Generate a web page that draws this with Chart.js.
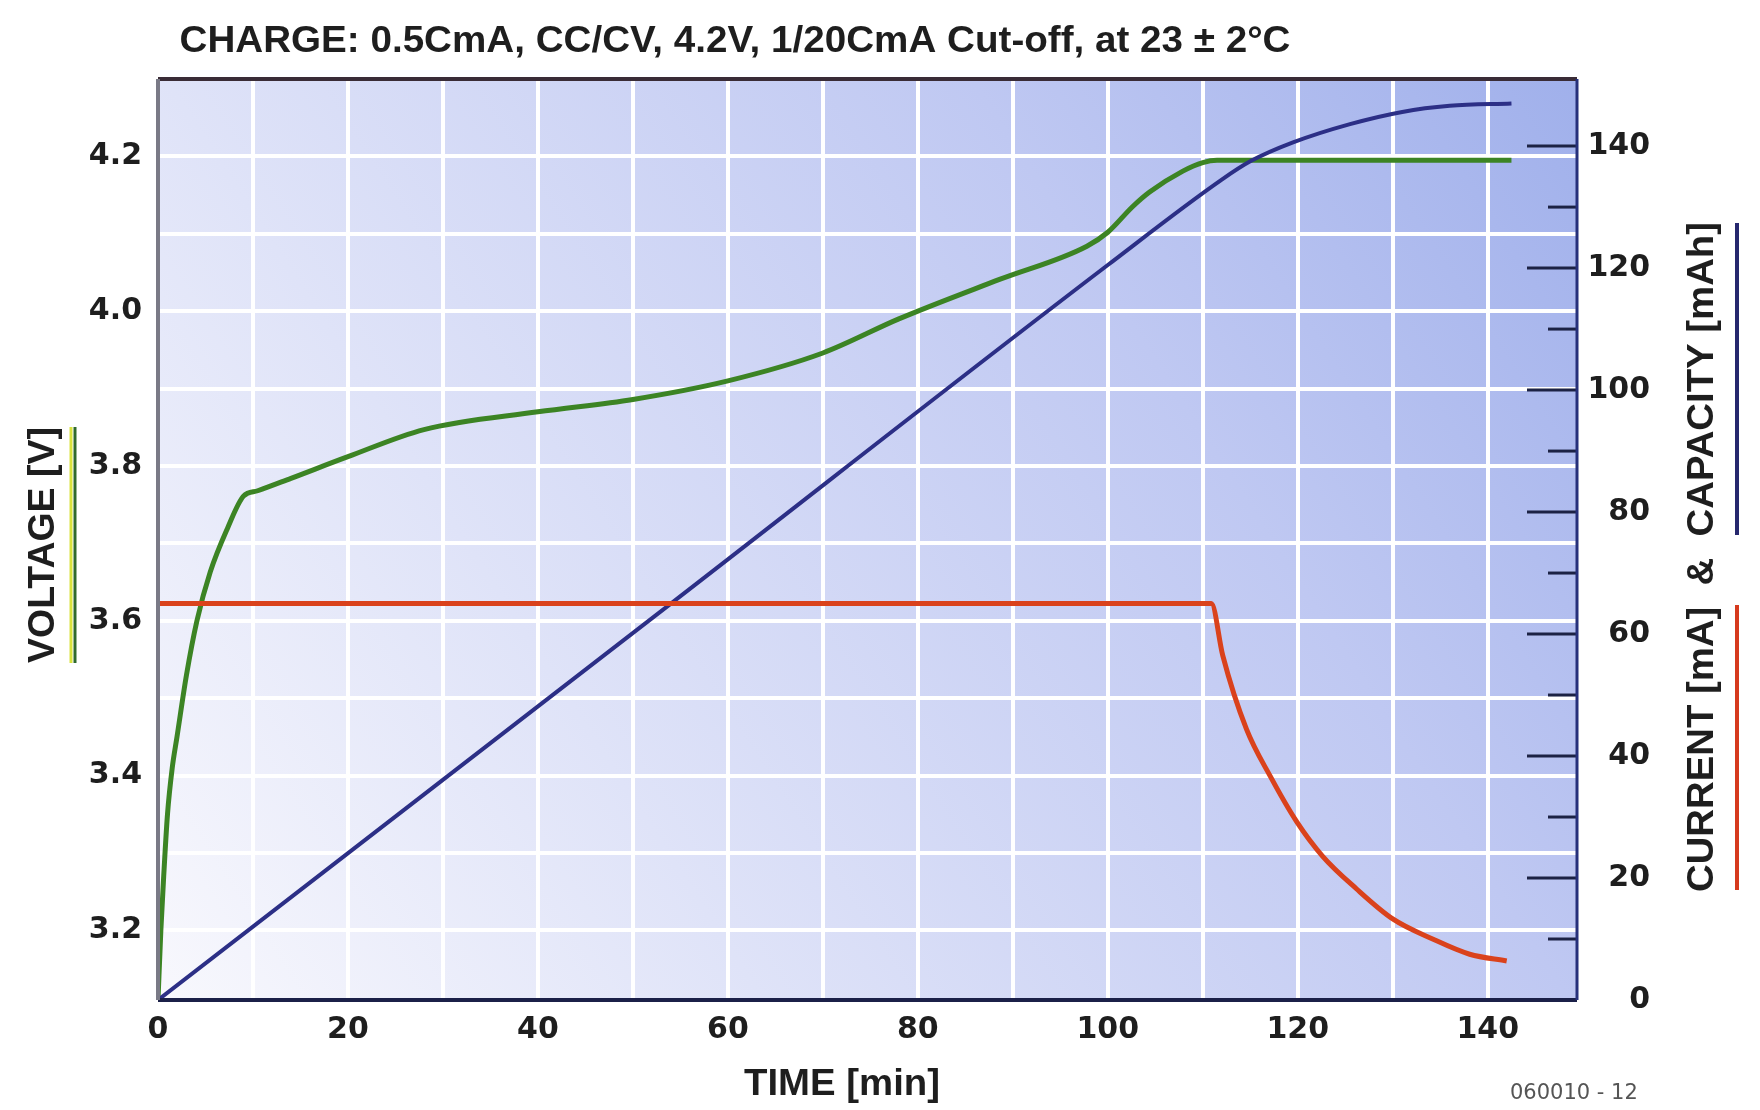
<!DOCTYPE html>
<html>
<head>
<meta charset="utf-8">
<title>Curva de carga</title>
<script src="https://cdn.jsdelivr.net/npm/chart.js@4.4.0/dist/chart.umd.min.js"></script>
<style>
  html, body { margin: 0; padding: 0; background: #ffffff; }
  #contenedor { width: 1760px; height: 1110px; }
</style>
</head>
<body>
<div id="contenedor"><canvas id="graficoCarga" width="1760" height="1110"></canvas></div>
<script>
// Valores
const tiempoVoltaje = [0, 0.3, 0.6, 1.0, 1.5, 2.0, 3.0, 4.1, 5.5, 7.3, 9.0, 10.5, 14, 20, 28, 40, 50, 60, 70, 78, 88.6, 97.8, 100, 102.6, 104.4, 107.9, 110, 111.5, 142.5];
const voltaje = [3.11, 3.2, 3.27, 3.35, 3.41, 3.45, 3.53, 3.6, 3.663, 3.719, 3.761, 3.768, 3.784, 3.812, 3.847, 3.87, 3.886, 3.91, 3.946, 3.99, 4.041, 4.084, 4.102, 4.135, 4.154, 4.181, 4.192, 4.195, 4.195];

const tiempoCapacidad = [0, 54, 100, 112, 115, 119.5, 125.5, 131, 136, 142.5];
const capacidad = [0, 65, 120.5, 134.5, 137.5, 140.6, 143.6, 145.6, 146.6, 147.0];

const tiempoCorriente = [0, 110.9, 112.1, 114.6, 117.1, 119.9, 122.6, 126.2, 130, 134.2, 138.1, 142];
const corriente = [65, 65, 56.5, 44.4, 36.7, 29.2, 23.6, 18.2, 13.3, 10.0, 7.5, 6.4];

const ticksTiempo = [0, 20, 40, 60, 80, 100, 120, 140];
const ticksVoltaje = [3.2, 3.4, 3.6, 3.8, 4.0, 4.2];

function puntos(xs, ys) {
  return xs.map((x, i) => ({ x: x, y: ys[i] }));
}

// Texto escalado para ocupar un ancho dado
function textoAjustado(ctx, texto, x, y, ancho, fuente, angulo) {
  ctx.save();
  ctx.font = fuente;
  const medido = ctx.measureText(texto).width;
  ctx.translate(x, y);
  if (angulo) ctx.rotate(angulo);
  ctx.scale(ancho / medido, 1);
  ctx.textAlign = "center";
  ctx.textBaseline = "alphabetic";
  ctx.fillStyle = "#1e1e1e";
  ctx.fillText(texto, 0, 0);
  ctx.restore();
}

// Fondo degradado del area de trazado
const fondo = {
  id: "fondo",
  beforeDraw(chart) {
    const { ctx, chartArea: a } = chart;
    const g = ctx.createLinearGradient(a.left, a.bottom, a.right, a.top);
    g.addColorStop(0, "#f8f8fd");
    g.addColorStop(0.3, "#dfe3f8");
    g.addColorStop(0.7, "#bfc8f2");
    g.addColorStop(1, "#a0b0eb");
    ctx.save();
    ctx.fillStyle = g;
    ctx.fillRect(a.left, a.top, a.right - a.left, a.bottom - a.top);
    ctx.restore();
  },
};

// Marco, marcas del eje derecho y textos
const marco = {
  id: "marco",
  afterDatasetsDraw(chart) {
    const { ctx, chartArea: a } = chart;
    const y1 = chart.scales.y1;
    ctx.save();
    ctx.strokeStyle = "#1c2244";
    ctx.lineWidth = 3;
    for (let v = 10; v <= 140; v += 10) {
      const py = y1.getPixelForValue(v);
      const largo = v % 20 === 0 ? 50 : 29;
      ctx.beginPath();
      ctx.moveTo(a.right - largo, py);
      ctx.lineTo(a.right, py);
      ctx.stroke();
    }
    ctx.lineWidth = 4;
    ctx.strokeStyle = "#3a2c36";
    ctx.beginPath();
    ctx.moveTo(a.left, a.top);
    ctx.lineTo(a.right, a.top);
    ctx.stroke();
    ctx.strokeStyle = "#1b2048";
    ctx.beginPath();
    ctx.moveTo(a.left, a.bottom);
    ctx.lineTo(a.right, a.bottom);
    ctx.stroke();
    ctx.lineWidth = 3;
    ctx.strokeStyle = "#26307a";
    ctx.beginPath();
    ctx.moveTo(a.right, a.top);
    ctx.lineTo(a.right, a.bottom);
    ctx.stroke();
    ctx.lineWidth = 4;
    ctx.strokeStyle = "#7a7a86";
    ctx.beginPath();
    ctx.moveTo(a.left, a.top);
    ctx.lineTo(a.left, a.bottom);
    ctx.stroke();
    ctx.restore();
  },
  afterDraw(chart) {
    const ctx = chart.ctx;
    const fuente = 'bold 36px "Liberation Sans", Arial, sans-serif';
    textoAjustado(ctx, "CHARGE: 0.5CmA, CC/CV, 4.2V, 1/20CmA Cut-off, at 23 \u00b1 2\u00b0C", 735, 52, 1111, fuente, 0);
    textoAjustado(ctx, "TIME [min]", 842, 1095, 196, fuente, 0);
    textoAjustado(ctx, "VOLTAGE [V]", 54, 545, 236, fuente, -Math.PI / 2);
    textoAjustado(ctx, "CURRENT [mA]  &  CAPACITY [mAh]", 1713, 557, 670, fuente, -Math.PI / 2);

    // rayas de color junto a los titulos de eje
    ctx.save();
    ctx.lineWidth = 3;
    ctx.strokeStyle = "#d8e23c";
    ctx.beginPath(); ctx.moveTo(71, 427); ctx.lineTo(71, 663); ctx.stroke();
    ctx.strokeStyle = "#2f6a2c";
    ctx.beginPath(); ctx.moveTo(75, 427); ctx.lineTo(75, 663); ctx.stroke();
    ctx.lineWidth = 4;
    ctx.strokeStyle = "#26286e";
    ctx.beginPath(); ctx.moveTo(1737, 223); ctx.lineTo(1737, 535); ctx.stroke();
    ctx.strokeStyle = "#d63a1e";
    ctx.beginPath(); ctx.moveTo(1737, 605); ctx.lineTo(1737, 890); ctx.stroke();

    ctx.font = '21px "DejaVu Sans", sans-serif';
    ctx.fillStyle = "#555555";
    ctx.textAlign = "left";
    ctx.textBaseline = "alphabetic";
    ctx.fillText("060010 - 12", 1510, 1099);
    ctx.restore();
  },
};

const fuenteTicks = { family: '"DejaVu Sans", sans-serif', size: 30, weight: "bold" };

const ctx = document.getElementById("graficoCarga").getContext("2d");
const graficoCarga = new Chart(ctx, {
  type: "line",
  data: {
    datasets: [
      {
        label: "Current",
        data: puntos(tiempoCorriente, corriente),
        yAxisID: "y1",
        borderColor: "#da421c",
        borderWidth: 5,
        cubicInterpolationMode: "monotone",
        pointRadius: 0,
      },
      {
        label: "Capacity",
        data: puntos(tiempoCapacidad, capacidad),
        yAxisID: "y1",
        borderColor: "#2c2f86",
        borderWidth: 4,
        cubicInterpolationMode: "monotone",
        pointRadius: 0,
      },
      {
        label: "Voltage",
        data: puntos(tiempoVoltaje, voltaje),
        yAxisID: "y",
        borderColor: "#3c8424",
        borderWidth: 5,
        cubicInterpolationMode: "monotone",
        pointRadius: 0,
      },
    ],
  },
  options: {
    responsive: false,
    animation: false,
    devicePixelRatio: 1,
    layout: { padding: { top: 79, left: 0, right: 110, bottom: 0 } },
    plugins: {
      legend: { display: false },
      title: { display: false },
      tooltip: { enabled: false },
    },
    scales: {
      x: {
        type: "linear",
        min: 0,
        max: 149.4,
        grid: { color: "#ffffff", lineWidth: 4, drawTicks: false },
        border: { display: false },
        ticks: {
          stepSize: 10,
          autoSkip: false,
          includeBounds: false,
          maxRotation: 0,
          padding: 12,
          color: "#1e1e1e",
          font: fuenteTicks,
          callback: (v) => (ticksTiempo.includes(v) ? v : ""),
        },
        afterFit: (s) => { s.height = 110; },
      },
      y: {
        position: "left",
        min: 3.11,
        max: 4.3,
        grid: { color: "#ffffff", lineWidth: 4, drawTicks: false },
        border: { display: false },
        ticks: {
          stepSize: 0.1,
          autoSkip: false,
          includeBounds: false,
          padding: 16,
          color: "#1e1e1e",
          font: fuenteTicks,
          callback: (v) => {
            const r = Math.round(v * 10) / 10;
            return ticksVoltaje.includes(r) ? r.toFixed(1) : "";
          },
        },
        afterFit: (s) => { s.width = 158; },
      },
      y1: {
        position: "right",
        min: 0,
        max: 151,
        grid: { display: false, drawTicks: false },
        border: { display: false },
        ticks: {
          stepSize: 20,
          autoSkip: false,
          includeBounds: false,
          crossAlign: "far",
          padding: 14,
          color: "#1e1e1e",
          font: fuenteTicks,
        },
        afterFit: (s) => { s.width = 73; },
      },
    },
  },
  plugins: [fondo, marco],
});
</script>
</body>
</html>
